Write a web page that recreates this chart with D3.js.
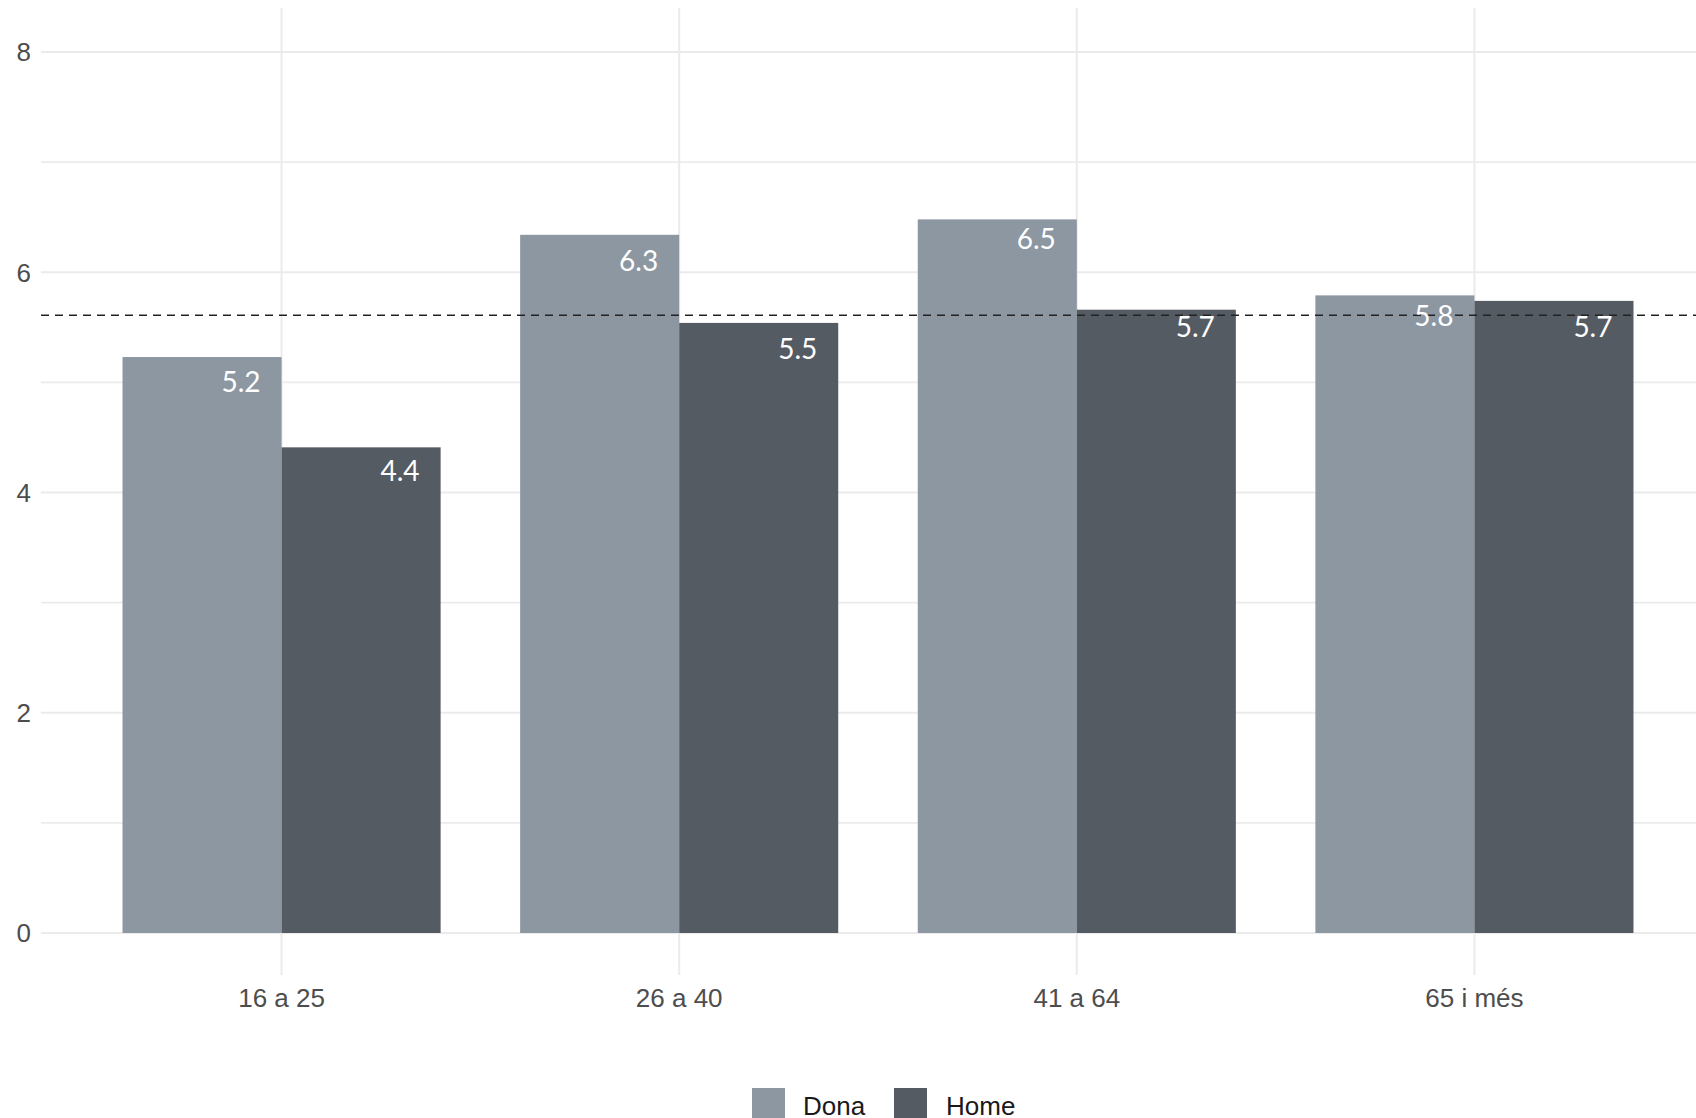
<!DOCTYPE html>
<html><head><meta charset="utf-8">
<script src="https://cdn.jsdelivr.net/npm/d3@7"></script>
<style>body{margin:0;background:#fff}svg{display:block}</style>
</head><body>
<script>
const categories = ["16 a 25", "26 a 40", "41 a 64", "65 i més"];
const groups = ["Dona", "Home"];
const dona = [5.23, 6.34, 6.48, 5.79];
const home = [4.41, 5.54, 5.66, 5.74];
const meanValue = 5.61;
const yTicks = [0, 2, 4, 6, 8];
const yMinor = [1, 3, 5, 7];
const colors = ["#8c97a2", "#555b63"];

const W = 1696, H = 1118;
const panel = {left: 43, right: 1713, top: 8, bottom: 975};
const svg = d3.select("body").append("svg").attr("width", W).attr("height", H);

const y = d3.scaleLinear().domain([0, 8]).range([933, 52]);
const x = d3.scaleBand().domain(categories).range([panel.left, panel.right]).paddingInner(0.2).paddingOuter(0.2);
const xs = d3.scaleBand().domain(groups).range([0, x.bandwidth()]);
const color = d3.scaleOrdinal().domain(groups).range(colors);
const gridLeft = 41;

// grid
const g = svg.append("g");
g.selectAll(".minor").data(yMinor).join("line")
  .attr("x1", gridLeft).attr("x2", W).attr("y1", d => y(d)).attr("y2", d => y(d))
  .attr("stroke", "#ebebeb").attr("stroke-width", 1.6);
g.selectAll(".major").data(yTicks).join("line")
  .attr("x1", gridLeft).attr("x2", W).attr("y1", d => y(d)).attr("y2", d => y(d))
  .attr("stroke", "#ebebeb").attr("stroke-width", 2);
g.selectAll(".vgrid").data(categories).join("line")
  .attr("x1", d => x(d) + x.bandwidth() / 2).attr("x2", d => x(d) + x.bandwidth() / 2)
  .attr("y1", panel.top).attr("y2", panel.bottom)
  .attr("stroke", "#ebebeb").attr("stroke-width", 2);

// y axis labels
svg.append("g").selectAll("text").data(yTicks).join("text")
  .attr("x", 31).attr("y", d => y(d)).attr("dy", "0.36em")
  .attr("text-anchor", "end")
  .attr("font-family", "Liberation Sans, Arial, sans-serif").attr("font-size", 26)
  .attr("fill", "#4d4d4d").text(d => d);

// x axis labels
svg.append("g").selectAll("text").data(categories).join("text")
  .attr("x", d => x(d) + x.bandwidth() / 2).attr("y", 1007)
  .attr("text-anchor", "middle")
  .attr("font-family", "Liberation Sans, Arial, sans-serif").attr("font-size", 26)
  .attr("fill", "#4d4d4d").text(d => d);

// bars
const rows = [];
categories.forEach((c, i) => {
  rows.push({cat: c, grp: "Dona", v: dona[i]});
  rows.push({cat: c, grp: "Home", v: home[i]});
});
svg.append("g").selectAll("rect").data(rows).join("rect")
  .attr("x", d => x(d.cat) + xs(d.grp)).attr("width", xs.bandwidth())
  .attr("y", d => y(d.v)).attr("height", d => y(0) - y(d.v))
  .attr("fill", d => color(d.grp));

// mean dashed line
svg.append("line")
  .attr("x1", gridLeft).attr("x2", W).attr("y1", y(meanValue)).attr("y2", y(meanValue))
  .attr("stroke", "#222").attr("stroke-width", 1.5).attr("stroke-dasharray", "8,6");

// value labels (placed at rounded value - 0.2)
const fmt = d3.format(".1f");
svg.append("g").selectAll("text").data(rows).join("text")
  .attr("x", d => x(d.cat) + xs(d.grp) + xs.bandwidth() - 21)
  .attr("y", d => y(+fmt(d.v) - 0.2))
  .attr("dy", "0.36em")
  .attr("text-anchor", "end")
  .attr("font-family", "Lato, 'Open Sans', sans-serif").attr("font-size", 28)
  .attr("fill", "#fff").text(d => fmt(d.v));

// legend
const leg = svg.append("g");
const legItems = [{k: "Dona", x: 752, tx: 803}, {k: "Home", x: 894, tx: 946}];
leg.selectAll("rect").data(legItems).join("rect")
  .attr("x", d => d.x).attr("y", 1088).attr("width", 33).attr("height", 33)
  .attr("fill", d => color(d.k));
leg.selectAll("text").data(legItems).join("text")
  .attr("x", d => d.tx).attr("y", 1115)
  .attr("font-family", "Liberation Sans, Arial, sans-serif").attr("font-size", 26)
  .attr("fill", "#1a1a1a").text(d => d.k);
</script>
</body></html>
